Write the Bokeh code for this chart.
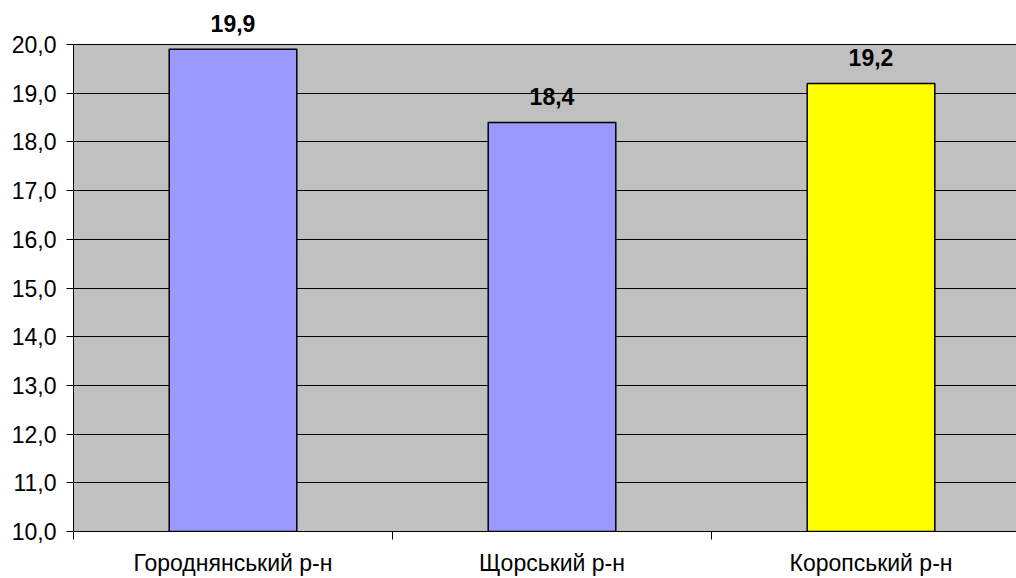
from bokeh.plotting import figure
from bokeh.models import ColumnDataSource, Range1d, FixedTicker, LabelSet, BoxAnnotation
from bokeh.core.properties import value
from bokeh.embed import file_html
from bokeh.resources import INLINE

categories = ["Городнянський р-н", "Щорський р-н", "Коропський р-н"]
values = [19.9, 18.4, 19.2]
colors = ["#9999FF", "#9999FF", "#FFFF00"]
y_ticks = [10.0, 11.0, 12.0, 13.0, 14.0, 15.0, 16.0, 17.0, 18.0, 19.0, 20.0]

FONT = "Liberation Sans"

W, H = 1016, 578
LEFT, TOP, BOTTOM = 73, 44, 47
FRAME_TOP = 4          # extra room above the plot area for value labels
CAT_PX = 319
frame_w = W - LEFT
y_lo, y_hi = y_ticks[0], y_ticks[-1]
px_per_unit = (H - TOP - BOTTOM) / (y_hi - y_lo)
y_end = y_hi + (TOP - FRAME_TOP) / px_per_unit

xs = [i + 0.5 for i in range(len(categories))]
labels = [f"{v:.1f}".replace(".", ",") for v in values]
src = ColumnDataSource(dict(x=xs, top=values, color=colors, label=labels))

p = figure(width=W, height=H, output_backend="svg", toolbar_location=None,
           x_range=Range1d(0, frame_w / CAT_PX), y_range=Range1d(y_lo, y_end),
           min_border_left=LEFT, min_border_top=FRAME_TOP, min_border_bottom=BOTTOM,
           min_border_right=0)
p.background_fill_color = "white"
p.border_fill_color = "white"
p.outline_line_color = None

# grey plot area (below grid lines)
p.add_layout(BoxAnnotation(bottom=y_lo, top=y_hi, fill_color="#C0C0C0", fill_alpha=1,
                           line_color=None, level="image"))

p.vbar(x="x", top="top", bottom=y_lo, width=0.4, fill_color="color",
       line_color="black", line_width=1.5, source=src)

p.add_layout(LabelSet(x="x", y="top", text="label", source=src, text_align="center",
                      text_baseline="alphabetic", y_offset=17, text_font=value(FONT),
                      text_font_size="23px", text_font_style="bold",
                      text_color="black"))

# y axis
p.yaxis.ticker = FixedTicker(ticks=y_ticks)
p.yaxis.bounds = (y_lo, y_hi)
p.yaxis.major_label_overrides = {t: f"{t:.1f}".replace(".", ",") for t in y_ticks}
p.yaxis.major_label_text_font = FONT
p.yaxis.major_label_text_font_size = "23px"
p.yaxis.major_label_text_color = "black"
p.yaxis.major_tick_out = 7
p.yaxis.major_tick_in = 0
p.yaxis.minor_tick_line_color = None
p.yaxis.axis_line_color = "black"
p.yaxis.major_tick_line_color = "black"
p.yaxis.major_label_standoff = 10

# x axis
p.xaxis.ticker = FixedTicker(ticks=xs, minor_ticks=list(range(len(categories) + 1)))
p.xaxis.major_label_overrides = {x: c for x, c in zip(xs, categories)}
p.xaxis.major_label_text_font = FONT
p.xaxis.major_label_text_font_size = "23px"
p.xaxis.major_label_text_line_height = 1.0
p.xaxis.major_label_text_color = "black"
p.xaxis.major_tick_out = 0
p.xaxis.major_tick_in = 0
p.xaxis.minor_tick_out = 8
p.xaxis.minor_tick_in = 0
p.xaxis.minor_tick_line_color = "black"
p.xaxis.axis_line_color = "black"
p.xaxis.major_label_standoff = 10

p.xgrid.grid_line_color = None
p.ygrid.ticker = FixedTicker(ticks=y_ticks)
p.ygrid.grid_line_color = "black"
p.ygrid.grid_line_width = 1

open("out.html", "w").write(file_html(p, INLINE))
